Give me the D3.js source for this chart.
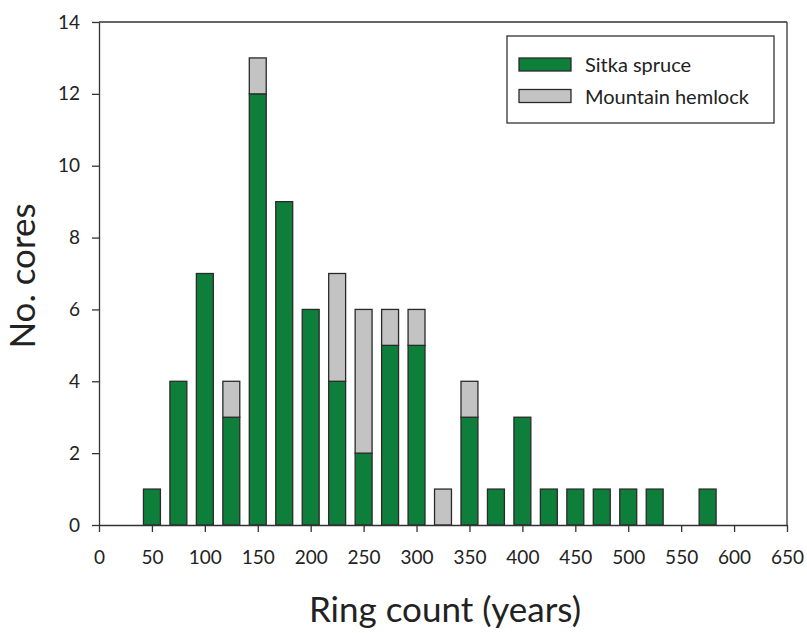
<!DOCTYPE html>
<html><head><meta charset="utf-8">
<script src="https://cdn.jsdelivr.net/npm/d3@7"></script>
<style>body{margin:0;background:#fff}svg{display:block}text{font-family:Lato,"Open Sans",sans-serif;fill:#222}</style>
</head><body><svg id="c" width="807" height="633"></svg>
<script>
const ringCounts = [50,75,100,125,150,175,200,225,250,275,300,325,350,375,400,425,450,475,500,525,550,575];
const sitkaSpruce = [1,4,7,3,12,9,6,4,2,5,5,0,3,1,3,1,1,1,1,1,0,1];
const mountainHemlock = [0,0,0,1,1,0,0,3,4,1,1,1,1,0,0,0,0,0,0,0,0,0];
const seriesNames = ["Sitka spruce","Mountain hemlock"];
const colors = ["#0e7f3b","#c3c3c3"];
const xTicks = d3.range(0,651,50);
const yTicks = d3.range(0,15,2);

const svg = d3.select("#c");
const L=99, R=787, T=22, B=525;
const x = d3.scaleLinear().domain([0,650]).range([L,R]);
const y = d3.scaleLinear().domain([0,14]).range([B,T]);
const barW = x(16)-x(0);

const rows = ringCounts.map((r,i)=>({r, s:sitkaSpruce[i], m:mountainHemlock[i]}));
const stack = d3.stack().keys(["s","m"])(rows);
stack.forEach((layer,k)=>{
  svg.append("g").selectAll("rect").data(layer.filter(d=>d[1]>d[0])).join("rect")
    .attr("x",d=>x(d.data.r)-barW/2).attr("width",barW)
    .attr("y",d=>y(d[1])).attr("height",d=>y(d[0])-y(d[1]))
    .attr("fill",colors[k]).attr("stroke","#2a2a2a").attr("stroke-width",1.3);
});

// frame
svg.append("line").attr("x1",L).attr("x2",R).attr("y1",T).attr("y2",T).attr("stroke","#333").attr("stroke-width",1.3);
svg.append("line").attr("x1",R).attr("x2",R).attr("y1",T).attr("y2",B).attr("stroke","#333").attr("stroke-width",1.3);

const xa = svg.append("g").attr("transform",`translate(0,${B})`)
  .call(d3.axisBottom(x).tickValues(xTicks).tickSize(7).tickPadding(19).tickSizeOuter(0));
const ya = svg.append("g").attr("transform",`translate(${L},0)`)
  .call(d3.axisLeft(y).tickValues(yTicks).tickSize(7).tickPadding(12).tickSizeOuter(0));
[xa,ya].forEach(a=>{
  a.selectAll("path,line").attr("stroke","#333").attr("stroke-width",1.3);
  a.selectAll("text").style("font-size","19px").attr("fill","#222");
});

svg.append("text").attr("x",445).attr("y",622).attr("text-anchor","middle").style("font-size","35px").text("Ring count (years)");
svg.append("text").attr("transform","translate(35,276) rotate(-90)").attr("text-anchor","middle").style("font-size","35px").text("No. cores");

// legend
const lg = svg.append("g");
lg.append("rect").attr("x",507).attr("y",36).attr("width",267).attr("height",87).attr("fill","#fff").attr("stroke","#333").attr("stroke-width",1.3);
seriesNames.forEach((n,i)=>{
  lg.append("rect").attr("x",519).attr("y",58+i*31.5).attr("width",52).attr("height",13).attr("fill",colors[i]).attr("stroke","#2a2a2a").attr("stroke-width",1.3);
  lg.append("text").attr("x",585).attr("y",65+i*31.5).attr("dy","0.35em").style("font-size","20px").text(n);
});
</script></body></html>
